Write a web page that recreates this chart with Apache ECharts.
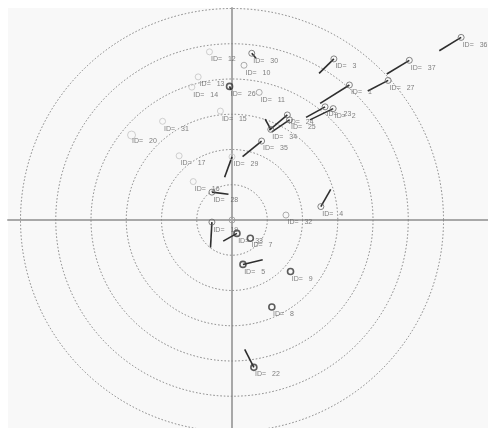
<!DOCTYPE html>
<html>
<head>
<meta charset="utf-8">
<script src="https://cdn.jsdelivr.net/npm/echarts@6/dist/echarts.min.js"></script>
<style>
  html, body { margin: 0; padding: 0; background: #fff; }
  #main { width: 488px; height: 428px; }
</style>
</head>
<body>
<div id="main"></div>
<script>
// point ids, positions (ring units) and vector end points (null = no vector)
const ids    = [36, 37, 27, 3, 1, 2, 23, 24, 25, 34, 11, 30, 10, 12, 13, 26, 14, 15, 31, 20, 17, 29, 35, 16, 28, 19, 33, 7, 32, 4, 5, 9, 8, 22, 0]
const xs     = [6.50, 5.03, 4.43, 2.89, 3.33, 2.87, 2.64, 1.57, 1.63, 1.10, 0.77, 0.56, 0.34, -0.64, -0.96, -0.07, -1.14, -0.33, -1.97, -2.85, -1.50, 0.00, 0.84, -1.10, -0.57, -0.57, 0.14, 0.52, 1.53, 2.52, 0.31, 1.66, 1.13, 0.62, 0]
const ys     = [5.18, 4.53, 3.96, 4.57, 3.83, 3.16, 3.21, 2.98, 2.84, 2.57, 3.62, 4.73, 4.39, 4.77, 4.06, 3.79, 3.77, 3.09, 2.80, 2.41, 1.82, 1.79, 2.24, 1.09, 0.79, -0.06, -0.38, -0.52, 0.14, 0.38, -1.26, -1.46, -2.47, -4.18, 0]
const endXs  = [5.88, 4.39, 3.85, 2.47, 2.50, 2.21, 2.10, 1.06, 1.13, 0.94, null, 0.68, null, null, null, -0.03, null, null, null, null, null, -0.21, 0.30, null, -0.10, -0.61, -0.25, null, null, 2.80, 0.87, null, null, 0.36, null]
const endYs  = [4.80, 4.14, 3.66, 4.16, 3.31, 2.84, 2.91, 2.55, 2.50, 2.86, null, 4.59, null, null, null, 3.69, null, null, null, null, null, 1.21, 1.80, null, 0.73, -0.78, -0.60, null, null, 0.87, -1.13, null, null, -3.67, null]
// marker shade level: 0 light .. 3 dark
const shades = [2, 2, 2, 2, 2, 2, 2, 2, 2, 2, 1, 2, 1, 0, 0, 3, 0, 0, 0, 0, 0, 0, 2, 0, 2, 2, 3, 3, 1, 2, 3, 3, 3, 3, 1]
const rings  = [1, 2, 3, 4, 5, 6]

const shadeColors = ['#c4c4c4', '#9a9a9a', '#666666', '#333333']

const chartDom = document.getElementById('main')
const myChart = echarts.init(chartDom, null, { renderer: 'canvas' })

const points = ids.map((id, i) => ({
    value: [xs[i], ys[i], id],
    symbolSize: id === 20 ? 8 : 6,
    itemStyle: {
        color: 'rgba(0,0,0,0)',
        borderColor: shadeColors[shades[i]],
        borderWidth: shades[i] === 3 ? 1.6 : 1
    },
    label: { show: id !== 0 }
}))

const vectors = []
ids.forEach((id, i) => {
    if (endXs[i] !== null) {
        vectors.push({ coords: [[xs[i], ys[i]], [endXs[i], endYs[i]]] })
    }
})

const option = {
    backgroundColor: '#ffffff',
    animation: false,
    grid: {
        left: 8,
        right: 0,
        top: 8,
        bottom: 0,
        show: true,
        backgroundColor: '#f8f8f8',
        borderWidth: 0
    },
    xAxis: {
        type: 'value',
        min: -6.355,
        max: 7.262,
        axisLine: { onZero: true, lineStyle: { color: '#a8a8a8', width: 2 } },
        axisTick: { show: false },
        axisLabel: { show: false },
        splitLine: { show: false }
    },
    yAxis: {
        type: 'value',
        min: -5.901,
        max: 6.014,
        axisLine: { onZero: true, lineStyle: { color: '#a8a8a8', width: 2 } },
        axisTick: { show: false },
        axisLabel: { show: false },
        splitLine: { show: false }
    },
    series: [
        {
            // dotted range rings
            type: 'custom',
            clip: true,
            silent: true,
            data: rings.map(r => [r]),
            renderItem: (params, api) => {
                const c = api.coord([0, 0])
                const r = api.size([api.value(0), 0])[0]
                return {
                    type: 'circle',
                    shape: { cx: c[0], cy: c[1], r },
                    style: {
                        fill: null,
                        stroke: '#808080',
                        lineWidth: 1,
                        lineDash: [1.5, 2]
                    }
                }
            }
        },
        {
            type: 'lines',
            coordinateSystem: 'cartesian2d',
            silent: true,
            z: 3,
            lineStyle: { color: '#2e2e2e', width: 1.6, opacity: 1, curveness: 0 },
            data: vectors
        },
        {
            type: 'scatter',
            symbol: 'circle',
            z: 4,
            data: points,
            label: {
                position: [5, 11],
                align: 'left',
                verticalAlign: 'middle',
                formatter: p => `{a|ID=}{b|${p.value[2]}}`,
                rich: {
                    a: { width: 17, fontSize: 7, color: '#606060', fontFamily: 'Liberation Sans' },
                    b: { fontSize: 7, color: '#606060', fontFamily: 'Liberation Sans' }
                }
            }
        }
    ]
}

option && myChart.setOption(option)
</script>
</body>
</html>
